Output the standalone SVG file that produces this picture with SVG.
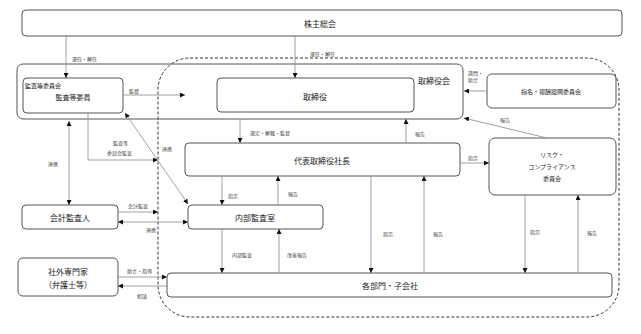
<svg xmlns="http://www.w3.org/2000/svg" width="641" height="334" viewBox="0 0 641 334">
<defs>
<marker id="ah" viewBox="0 0 6 6" refX="6" refY="3" markerWidth="5" markerHeight="5" markerUnits="userSpaceOnUse" orient="auto-start-reverse">
<path d="M0,0 L6,3 L0,6 z" fill="#111"/>
</marker>
<style>
.box{fill:#fff;stroke:#555;stroke-width:1}
.grp{fill:none;stroke:#555;stroke-width:1}
.nt{font-family:"Noto Sans CJK JP","Noto Sans CJK SC",sans-serif;font-size:8px;fill:#222;text-anchor:middle;dominant-baseline:central}
.lb{font-family:"Noto Sans CJK JP","Noto Sans CJK SC",sans-serif;font-size:5px;fill:#444;dominant-baseline:central}
.c{fill:none;stroke:#888;stroke-width:0.8}
.a{marker-end:url(#ah)}
.b{marker-start:url(#ah);marker-end:url(#ah)}
.dash{fill:none;stroke:#333;stroke-width:1;stroke-dasharray:3 2}
</style>
</defs>
<rect width="641" height="334" fill="#fff"/>

<rect class="dash" x="158" y="58" width="461" height="259" rx="32"/>

<g id="kabunushi">
<rect class="box" x="22" y="10" width="600" height="26" rx="4"/>
<text class="nt" x="320" y="23">株主総会</text>
</g>
<g id="torishimariyakukai">
<rect class="grp" x="17" y="64" width="446" height="55" rx="6"/>
<text class="nt" x="434" y="80">取締役会</text>
</g>
<g id="kansatouiinkai">
<rect class="box" x="23" y="78" width="100" height="35" rx="4"/>
<text class="lb" x="25" y="85" style="font-size:6px;fill:#222">監査等委員会</text>
<text class="nt" x="73" y="97" style="font-size:7px">監査等委員</text>
</g>
<g id="torishimariyaku">
<rect class="box" x="217" y="78" width="197" height="34" rx="4"/>
<text class="nt" x="315" y="96">取締役</text>
</g>
<g id="shimei">
<rect class="box" x="487" y="74" width="129" height="34" rx="5"/>
<text class="nt" x="551" y="91" style="font-size:6px">指名・報酬諮問委員会</text>
</g>
<g id="daihyo">
<rect class="box" x="185" y="143" width="275" height="33" rx="4"/>
<text class="nt" x="322" y="160">代表取締役社長</text>
</g>
<g id="risk">
<rect class="box" x="489" y="138" width="127" height="57" rx="6"/>
<text class="nt" x="552" y="154" style="font-size:6px">リスク・</text>
<text class="nt" x="552" y="166" style="font-size:6px">コンプライアンス</text>
<text class="nt" x="552" y="178" style="font-size:6px">委員会</text>
</g>
<g id="kaikei">
<rect class="box" x="22" y="205" width="96" height="24" rx="4"/>
<text class="nt" x="70" y="217">会計監査人</text>
</g>
<g id="naibu">
<rect class="box" x="188" y="205" width="135" height="24" rx="4"/>
<text class="nt" x="255" y="217">内部監査室</text>
</g>
<g id="shagai">
<rect class="box" x="18" y="258" width="100" height="38" rx="5"/>
<text class="nt" x="68" y="271">社外専門家</text>
<text class="nt" x="68" y="284">（弁護士等）</text>
</g>
<g id="kakubumon">
<rect class="box" x="167" y="273" width="445" height="24" rx="4"/>
<text class="nt" x="390" y="285">各部門・子会社</text>
</g>

<g id="connectors">
<path class="c a" d="M66,36 V78"/>
<text class="lb" x="72" y="58">選任・解任</text>
<path class="c a" d="M295,36 V78"/>
<text class="lb" x="310" y="53">選任・解任</text>
<path class="c a" d="M123,95 H185"/>
<text class="lb" x="129" y="90">監督</text>
<path class="c a" d="M487,91 H464"/>
<text class="lb" x="468" y="72">諮問・</text>
<text class="lb" x="468" y="79">助言</text>
<path class="c a" d="M547,138 L464,118"/>
<text class="lb" x="500" y="119">報告</text>
<path class="c a" d="M240,119 V143"/>
<text class="lb" x="250" y="132">選定・解職・監督</text>
<path class="c a" d="M406,143 V119"/>
<text class="lb" x="415" y="133">報告</text>
<path class="c a" d="M460,163 H489"/>
<text class="lb" x="468" y="157">指示</text>
<path class="c a" d="M88,113 V160 H158"/>
<text class="lb" x="113" y="142">監査等</text>
<text class="lb" x="107" y="152">委員会監査</text>
<path class="c b" d="M125,113 L188,204"/>
<text class="lb" x="162" y="148">連携</text>
<path class="c b" d="M69,121 V205"/>
<text class="lb" x="48" y="163">連携</text>
<path class="c a" d="M118,212 H158"/>
<text class="lb" x="128" y="205">会計監査</text>
<path class="c b" d="M118,222 H188"/>
<text class="lb" x="146" y="229">連携</text>
<path class="c a" d="M222,176 V205"/>
<text class="lb" x="228" y="195">指示</text>
<path class="c a" d="M278,205 V176"/>
<text class="lb" x="288" y="193">報告</text>
<path class="c a" d="M222,229 V273"/>
<text class="lb" x="232" y="254">内部監査</text>
<path class="c a" d="M279,273 V229"/>
<text class="lb" x="287" y="254">改善報告</text>
<path class="c a" d="M118,277 H167"/>
<text class="lb" x="127" y="270">助言・指導</text>
<path class="c a" d="M167,286 H118"/>
<text class="lb" x="137" y="295">相談</text>
<path class="c a" d="M371,176 V273"/>
<text class="lb" x="383" y="233">指示</text>
<path class="c a" d="M424,273 V176"/>
<text class="lb" x="433" y="233">報告</text>
<path class="c a" d="M525,195 V273"/>
<text class="lb" x="530" y="231">指示</text>
<path class="c a" d="M578,273 V195"/>
<text class="lb" x="587" y="232">報告</text>
</g>
</svg>
